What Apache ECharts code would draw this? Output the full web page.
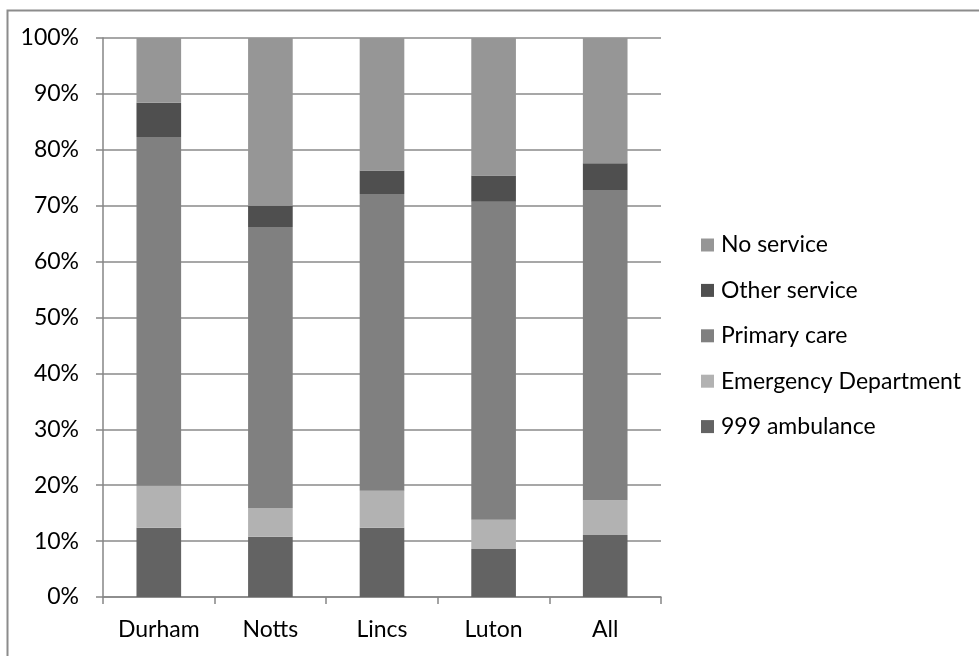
<!DOCTYPE html>
<html>
<head>
<meta charset="utf-8">
<script src="https://cdn.jsdelivr.net/npm/echarts@6/dist/echarts.min.js"></script>
<style>
  html, body { margin: 0; padding: 0; background: #fff; }
  #chart { width: 979px; height: 656px; }
</style>
</head>
<body>
<div id="chart"></div>
<script>
// Regions along the x axis
const categories = ['Durham', 'Notts', 'Lincs', 'Luton', 'All'];

// Share of contacts by service (percent), stacked bottom to top
const ambulance999 = [12.4, 10.8, 12.4, 8.6, 11.1];
const emergencyDept = [7.5, 5.1, 6.6, 5.2, 6.2];
const primaryCare = [62.4, 50.3, 53.1, 56.9, 55.5];
const otherService = [6.1, 3.8, 4.2, 4.7, 4.8];
const noService = [11.6, 30.0, 23.7, 24.6, 22.4];

const seriesNames = ['999 ambulance', 'Emergency Department', 'Primary care', 'Other service', 'No service'];
const seriesValues = [ambulance999, emergencyDept, primaryCare, otherService, noService];
const seriesColors = ['#636363', '#b2b2b2', '#808080', '#4f4f4f', '#969696'];

const FONT = 'Lato';
const FONT_SIZE = 23;
const chart = echarts.init(document.getElementById('chart'), null, { renderer: 'canvas' });

chart.setOption({
  animation: false,
  backgroundColor: '#ffffff',
  textStyle: { fontFamily: FONT },
  grid: { left: 103, right: 318, top: 38, bottom: 59, containLabel: false },
  legend: {
    orient: 'vertical',
    left: 701,
    top: 233,
    padding: 0,
    itemWidth: 13,
    itemHeight: 13,
    itemGap: 21.4,
    icon: 'rect',
    data: seriesNames.slice().reverse(),
    textStyle: { fontFamily: FONT, fontSize: FONT_SIZE, color: '#000', lineHeight: 24, padding: [0, 0, 0, 2] }
  },
  xAxis: {
    type: 'category',
    data: categories,
    axisLine: { lineStyle: { color: '#868686', width: 1.5 } },
    axisTick: { show: true, length: 7, alignWithLabel: false, lineStyle: { color: '#868686', width: 1.5 } },
    axisLabel: { fontFamily: FONT, fontSize: FONT_SIZE, color: '#000', margin: 21 }
  },
  yAxis: {
    type: 'value',
    min: 0,
    max: 100,
    interval: 10,
    axisLine: { show: true, lineStyle: { color: '#868686', width: 1.5 } },
    axisTick: { show: true, inside: false, length: 7, lineStyle: { color: '#868686', width: 1.5 } },
    axisLabel: { fontFamily: FONT, fontSize: FONT_SIZE, color: '#000', margin: 24, formatter: '{value}%' },
    splitLine: { show: true, lineStyle: { color: '#8a8a8a', width: 1.5 } }
  },
  series: seriesNames.map((name, i) => ({
    name: name,
    type: 'bar',
    stack: 'total',
    barWidth: '40%',
    data: seriesValues[i],
    itemStyle: { color: seriesColors[i] }
  })),
  graphic: [{
    type: 'polyline',
    shape: { points: [[7.5, 656], [7.5, 10.5], [979, 10.5]] },
    style: { stroke: '#8c8c8c', lineWidth: 2, fill: null },
    silent: true
  }]
});
</script>
</body>
</html>
